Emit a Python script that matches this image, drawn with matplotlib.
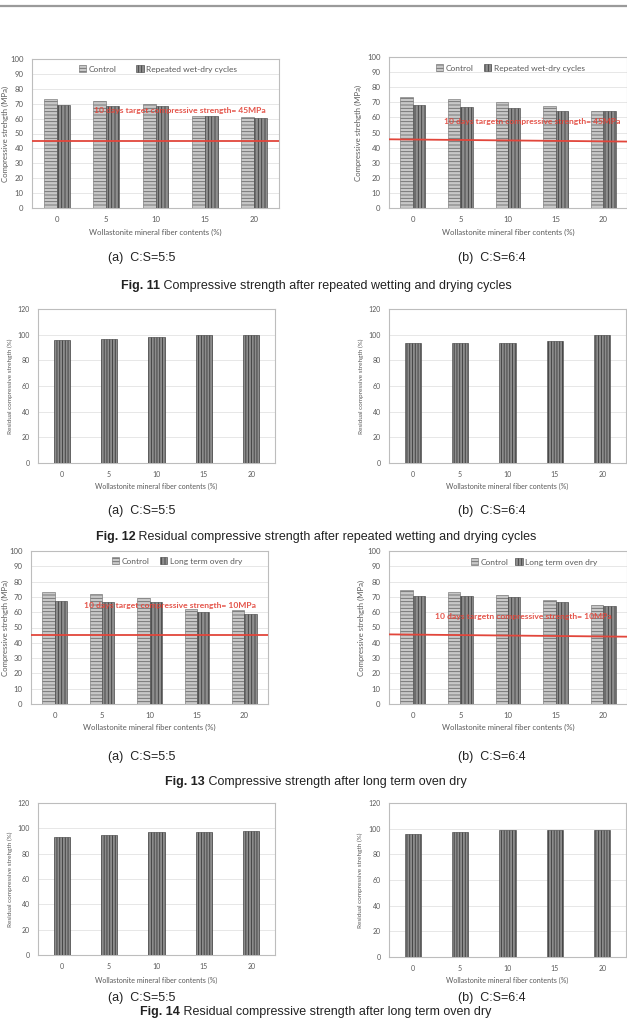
import matplotlib
matplotlib.use("Agg")
import matplotlib.pyplot as plt
from matplotlib.lines import Line2D

W, H = 627, 1019

fiber = ["0", "5", "10", "15", "20"]

# Fig. 11: compressive strength (MPa) after repeated wetting and drying
ctrl_wd_a = [72.9, 71.5, 69.5, 61.9, 60.8]
wd_a = [69.0, 68.6, 68.2, 61.7, 60.1]
ctrl_wd_b = [73.6, 72.1, 70.5, 67.3, 64.2]
wd_b = [68.4, 67.0, 65.9, 64.0, 64.2]

# Fig. 12: residual compressive strength (%) after wetting and drying
res_wd_a = [95.6, 96.6, 98.4, 100.0, 100.0]
res_wd_b = [93.2, 93.2, 93.8, 95.3, 100.0]

# Fig. 13: compressive strength (MPa) after long term oven dry
ctrl_ov_a = [72.9, 71.6, 69.6, 62.0, 61.2]
ov_a = [67.2, 66.8, 66.6, 60.1, 58.8]
ctrl_ov_b = [74.4, 72.9, 71.1, 67.9, 64.6]
ov_b = [70.5, 70.5, 69.8, 66.4, 63.8]

# Fig. 14: residual compressive strength (%) after long term oven dry
res_ov_a = [93.1, 94.7, 96.8, 97.4, 97.6]
res_ov_b = [95.9, 97.4, 98.7, 98.7, 99.2]

# red target line, value at left and right end as drawn in the source
target_a = [45.3, 45.3]
target_b = [45.5, 44.0]

TXT = "#595959"
RED = "#e2463b"
CHART_FONT = ["Lato", "DejaVu Sans"]
CAP_FONT = ["Liberation Sans Narrow", "Liberation Sans", "DejaVu Sans"]

plt.rcParams["font.family"] = CHART_FONT
plt.rcParams["hatch.linewidth"] = 0.6

fig = plt.figure(figsize=(W / 100, H / 100), dpi=100)
fig.add_artist(Line2D([0, 1], [1 - 5.5 / H] * 2, color="#9a9a9a", lw=1.6))


def add_ax(left, top, right, bottom):
    return fig.add_axes([left / W, 1 - bottom / H, (right - left) / W, (bottom - top) / H])


def style(ax, ymax, step, ylabel, ylab_x, xlab_y, fs_tick, fs_ylab, fs_xlab):
    ax.set_xlim(-0.5, 4.5)
    ax.set_ylim(0, ymax)
    ax.set_yticks(range(0, ymax + 1, step))
    ax.set_xticks(range(len(fiber)))
    ax.set_xticklabels(fiber)
    ax.tick_params(length=0, labelsize=fs_tick, colors=TXT)
    ax.tick_params(axis="x", pad=5.8)
    ax.tick_params(axis="y", pad=6)
    ax.grid(axis="y", color="#e3e3e3", lw=0.6)
    ax.set_axisbelow(True)
    for s in ax.spines.values():
        s.set_color("#bdbdbd")
        s.set_linewidth(0.8)
    ax.set_ylabel(ylabel, fontsize=fs_ylab, color=TXT, va="center")
    ax.set_xlabel("Wollastonite mineral fiber contents (%)", fontsize=fs_xlab, color=TXT, va="center")
    pos = ax.get_position()
    left_px = pos.x0 * W
    bottom_px = (1 - pos.y0) * H
    ax.yaxis.set_label_coords((ylab_x - left_px) / (pos.width * W), 0.5)
    ax.xaxis.set_label_coords(0.5, -(xlab_y - bottom_px) / (pos.height * H))


def pair_chart(ax, ctrl, other, other_name, target, note, note_x, note_y, leg_x, leg_y, colsp):
    x = range(len(fiber))
    w = 0.26
    ax.bar([i - w / 2 for i in x], ctrl, w, color="#c8c8c8", edgecolor="#6a6a6a",
           hatch="-----", lw=0.4, zorder=3, label="Control")
    ax.bar([i + w / 2 for i in x], other, w, color="#8e8e8e", edgecolor="#3e3e3e",
           hatch="|||||", lw=0.4, zorder=3, label=other_name)
    ax.plot([-0.5, 4.5], target, color=RED, lw=1.3, zorder=4)
    ax.text(note_x, note_y, note, transform=ax.get_yaxis_transform(), ha="center", va="center",
            color=RED, fontsize=6.1, fontweight="bold", zorder=5, alpha=0.92)
    ax.legend(loc="center", bbox_to_anchor=(leg_x, leg_y), ncol=2, frameon=False, fontsize=6,
              handlelength=0.9, handleheight=0.9, handletextpad=0.3, columnspacing=colsp,
              labelcolor=TXT)
    style(ax, 100, 10, "Compressive strehgth (MPa)", ax.ylab_x, ax.xlab_y, 5.6, 5.6, 5.6)


def residual_chart(ax, vals):
    x = range(len(fiber))
    ax.bar(x, vals, 0.34, color="#8c8c8c", edgecolor="#3a3a3a", hatch="||||||", lw=0.4, zorder=3)
    style(ax, 120, 20, "Residual compressive strehgth (%)", ax.ylab_x, ax.xlab_y, 5.0, 4.6, 5.1)


# row 1
ax1 = add_ax(32, 59, 279, 208)
ax1.ylab_x, ax1.xlab_y = 5, 232
pair_chart(ax1, ctrl_wd_a, wd_a, "Repeated wet-dry cycles", target_a,
           "10 days target compressive strength= 45MPa", 0.60, 65.5, 0.51, 0.933, 2.4)
ax2 = add_ax(389, 57, 627, 208)
ax2.ylab_x, ax2.xlab_y = 358, 232
pair_chart(ax2, ctrl_wd_b, wd_b, "Repeated wet-dry cycles", target_b,
           "10 days targetn compressive strength= 45MPa", 0.60, 57.6, 0.51, 0.927, 1.2)

# row 2
ax3 = add_ax(38, 309, 275, 463)
ax3.ylab_x, ax3.xlab_y = 10, 486
residual_chart(ax3, res_wd_a)
ax4 = add_ax(389, 309, 626, 463)
ax4.ylab_x, ax4.xlab_y = 361, 486
residual_chart(ax4, res_wd_b)

# row 3
ax5 = add_ax(31, 551, 268, 704)
ax5.ylab_x, ax5.xlab_y = 5, 727
pair_chart(ax5, ctrl_ov_a, ov_a, "Long term oven dry", target_a,
           "10 days target compressive strength= 10MPa", 0.585, 64.6, 0.616, 0.935, 1.2)
ax6 = add_ax(389, 551, 627, 704)
ax6.ylab_x, ax6.xlab_y = 361, 727
pair_chart(ax6, ctrl_ov_b, ov_b, "Long term oven dry", target_b,
           "10 days targetn compressive strength= 10MPa", 0.565, 57.0, 0.61, 0.928, 0.8)

# row 4
ax7 = add_ax(38, 803, 275, 955)
ax7.ylab_x, ax7.xlab_y = 10, 980
residual_chart(ax7, res_ov_a)
ax8 = add_ax(389, 803, 626, 957)
ax8.ylab_x, ax8.xlab_y = 360, 980
residual_chart(ax8, res_ov_b)

# captions
sub_rows = [258, 511, 757, 998]
fig_rows = [286, 537, 782, 1012]
fig_caps = [
    ("Fig. 11", "Compressive strength after repeated wetting and drying cycles"),
    ("Fig. 12", "Residual compressive strength after repeated wetting and drying cycles"),
    ("Fig. 13", "Compressive strength after long term oven dry"),
    ("Fig. 14", "Residual compressive strength after long term oven dry"),
]

for y in sub_rows:
    fig.text(142 / W, 1 - y / H, "(a)  C:S=5:5", ha="center", va="center", fontsize=9,
             family=CAP_FONT, color="#222222")
    fig.text(492 / W, 1 - y / H, "(b)  C:S=6:4", ha="center", va="center", fontsize=9,
             family=CAP_FONT, color="#222222")

renderer = fig.canvas.get_renderer()
for y, (head, rest) in zip(fig_rows, fig_caps):
    t1 = fig.text(0, 1 - y / H, head, ha="left", va="center", fontsize=9,
                  family=CAP_FONT, fontweight="bold", color="#222222")
    t2 = fig.text(0, 1 - y / H, " " + rest, ha="left", va="center", fontsize=9,
                  family=CAP_FONT, color="#222222")
    w1 = t1.get_window_extent(renderer).width
    w2 = t2.get_window_extent(renderer).width
    x0 = 316 - (w1 + w2) / 2
    t1.set_x(x0 / W)
    t2.set_x((x0 + w1) / W)

fig.savefig("out.png", dpi=100)
